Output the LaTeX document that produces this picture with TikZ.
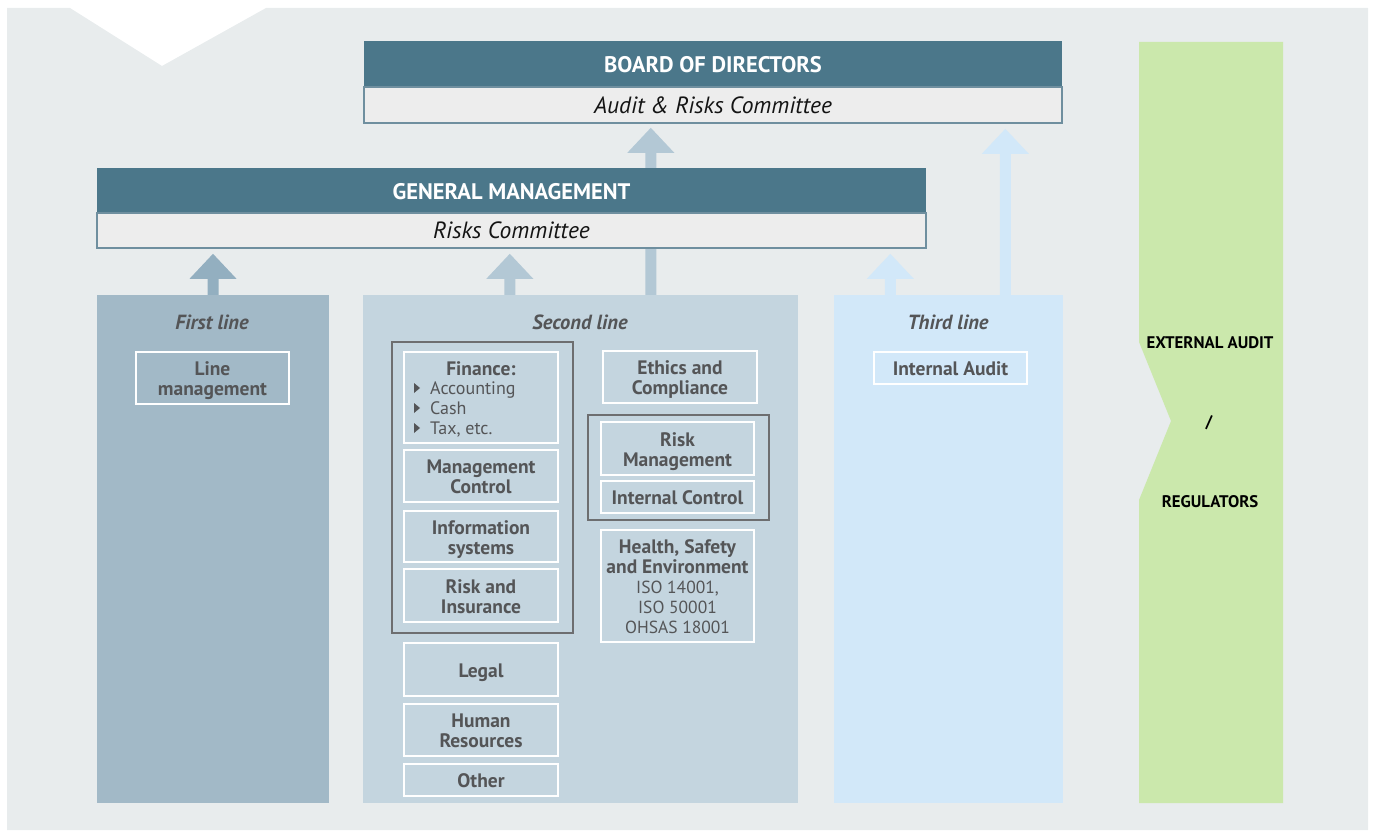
\documentclass[tikz,border=0pt]{standalone}
\usepackage{fontspec}
\setmainfont{PT Sans}
\usetikzlibrary{calc}
\definecolor{bgc}{HTML}{E8ECED}
\definecolor{hdr}{HTML}{4B778A}
\definecolor{subc}{HTML}{EDEDED}
\definecolor{subl}{HTML}{6F8F9F}
\definecolor{p1}{HTML}{A2B9C7}
\definecolor{p2}{HTML}{C4D5DF}
\definecolor{p3}{HTML}{D2E8F9}
\definecolor{grn}{HTML}{CBE8AC}
\definecolor{a1c}{HTML}{93AFC0}
\definecolor{a2c}{HTML}{B3C8D5}
\definecolor{txt}{HTML}{545557}
\definecolor{grp}{HTML}{6D6E70}
\newcommand\fs{\fontsize{19.5}{20}\selectfont}
\newcommand\blockarrow[3]{%
  \fill[#1] ($(#2)+(-5.5,0)$) -- ++(0,{-(#3-25)}) -- ++(-18,0) -- ++(23.5,-25)
    -- ++(23.5,25) -- ++(-18,0) -- ++(0,{#3-25}) -- cycle;}
\newcommand\bullettri[1]{\fill[txt] ($(#1)+(0,-5)$) -- ++(0,10) -- ++(6,-5) -- cycle;}
\begin{document}
\begin{tikzpicture}[x=1pt,y=-1pt,
  hdrbox/.style={fill=hdr, minimum width=#1, minimum height=46, inner sep=0,
    text height=18pt, text depth=0pt,
    font=\fontsize{22.5}{24}\selectfont\bfseries, text=white},
  subbox/.style={fill=subc, draw=subl, line width=1.2pt, minimum width=#1, minimum height=36,
    inner sep=0, font=\fontsize{23.5}{24}\selectfont\itshape, text=black!92},
  panel/.style={inner sep=0, minimum height=508, minimum width=#1},
  lbl/.style={font=\fontsize{20.5}{22}\selectfont\bfseries\itshape, text=txt},
  itembox/.style={draw=white, line width=1.8pt, inner sep=0, align=center,
    font=\fs\bfseries, text=txt},
  one/.style={text height=17pt, text depth=2pt},
  two/.style={text height=37pt, text depth=2pt},
  five/.style={text height=97pt, text depth=2pt},
  grpbox/.style={draw=grp, line width=1.5pt, inner sep=0},
  extlbl/.style={font=\fontsize{16.8}{18}\selectfont\bfseries, text=black}]
\useasboundingbox (0,0) rectangle (1373,832);
% background with notch
\fill[bgc] (7,8) -- (70,8) -- (162,66) -- (266,8) -- (1368,8) -- (1368,830) -- (7,830) -- cycle;
% panels
\node[panel=232, fill=p1] (first) at (213,549) {};
\node[panel=435, fill=p2] (second) at (580.5,549) {};
\node[panel=229, fill=p3] (third) at (948.5,549) {};
\fill[grn] (1139,42) -- (1283,42) -- (1283,803) -- (1139,803) -- (1139,500) -- (1171,421) -- (1139,342) -- cycle;
\node[extlbl] (ext1) at (1210,343) {EXTERNAL AUDIT};
\node[extlbl] (ext2) at (1209,423) {/};
\node[extlbl] (ext3) at (1210,502) {REGULATORS};
% arrows
\coordinate (a1s) at (first.north);
\coordinate (a2s) at ($(second.north west)+(147,0)$);
\coordinate (a3s) at ($(second.north west)+(288,0)$);
\coordinate (a4s) at ($(third.north west)+(56.5,0)$);
\coordinate (a5s) at ($(third.north west)+(171.5,0)$);
\blockarrow{a1c}{a1s}{41}
\blockarrow{a2c}{a2s}{41}
\blockarrow{a2c}{a3s}{167}
\blockarrow{p3}{a4s}{41}
\blockarrow{p3}{a5s}{166}
% headers
\node[hdrbox=698] (board) at (713,64) {BOARD OF DIRECTORS};
\node[subbox=698] (boardsub) at (713,105) {Audit \& Risks Committee};
\node[hdrbox=829, minimum height=45] (gm) at (511.5,190.5) {GENERAL MANAGEMENT};
\node[subbox=829, minimum height=35] (gmsub) at (511.5,230.5) {Risks Committee};
% labels
\node[lbl] (l1) at (212,322) {First line};
\node[lbl] (l2) at (580,322) {Second line};
\node[lbl] (l3) at (948,322) {Third line};
% first line
\node[itembox, two, minimum width=153, minimum height=52] (linemgmt) at (212.5,378) {Line\\management};
% second line group 1
\node[grpbox, minimum width=181, minimum height=291] (grp1) at (482.5,487.5) {};
\node[itembox, minimum width=154, minimum height=91] (finance) at (481,397.5) {};
\node[font=\fs\bfseries, text=txt, inner sep=0] (fintitle) at (481,369) {Finance:};
\node[font=\fontsize{18}{20}\selectfont, text=txt, inner sep=0, anchor=west, align=left] (finitems) at (430,409)
  {Accounting\\Cash\\Tax, etc.};
\coordinate (b1) at (414,388);
\coordinate (b2) at (414,408);
\coordinate (b3) at (414,428);
\bullettri{b1}
\bullettri{b2}
\bullettri{b3}
\node[itembox, two, minimum width=154, minimum height=52] (mgmtctrl) at (481,476) {Management\\Control};
\node[itembox, two, minimum width=154, minimum height=51] (infosys) at (481,536.5) {Information\\systems};
\node[itembox, two, minimum width=154, minimum height=53] (riskins) at (481,595.5) {Risk and\\Insurance};
\node[itembox, one, minimum width=154, minimum height=53] (legal) at (481,669.5) {Legal};
\node[itembox, two, minimum width=154, minimum height=52] (hr) at (481,730) {Human\\Resources};
\node[itembox, one, minimum width=154, minimum height=32] (other) at (481,780) {Other};
% second line right column
\node[itembox, two, minimum width=154, minimum height=52] (ethics) at (680,377) {Ethics and\\Compliance};
\node[grpbox, minimum width=181, minimum height=105] (grp2) at (678.5,467.5) {};
\node[itembox, two, minimum width=153, minimum height=53] (riskmgmt) at (677.5,448.5) {Risk\\Management};
\node[itembox, one, minimum width=153, minimum height=32] (intctrl) at (677.5,497) {Internal Control};
\node[itembox, five, minimum width=153, minimum height=112] (hse) at (677.5,586)
  {Health, Safety\\and Environment\\{\mdseries\fontsize{17.5}{20}\selectfont ISO 14001,}\\{\mdseries\fontsize{17.5}{20}\selectfont ISO 50001}\\{\mdseries\fontsize{17.5}{20}\selectfont OHSAS 18001}};
% third line
\node[itembox, one, minimum width=153, minimum height=32] (intaudit) at (950.5,368) {Internal Audit};
\end{tikzpicture}
\end{document}
